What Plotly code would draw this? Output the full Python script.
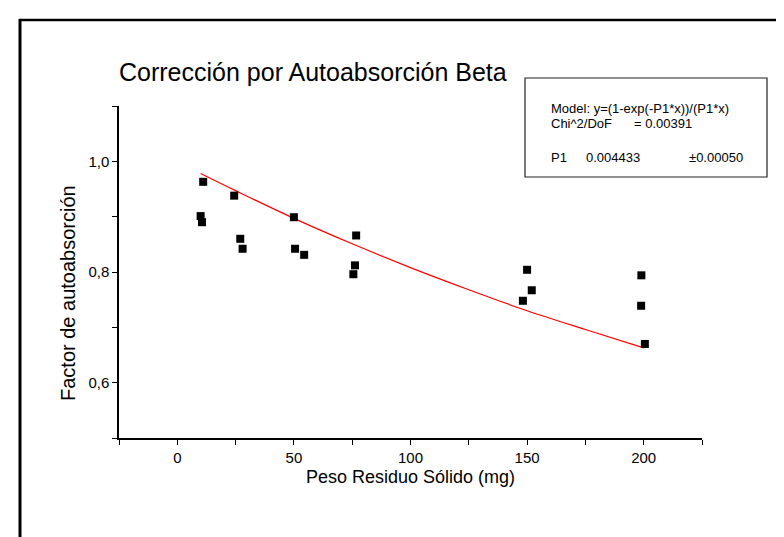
import plotly.graph_objects as go

# ---- data ----
peso_mg = [11.1, 24.4, 10.0, 10.6, 27.0, 28.0, 50.0, 50.5, 54.4,
           76.7, 76.2, 75.5, 150.0, 152.0, 148.2, 199.0, 198.9, 200.5]
factor = [0.963, 0.938, 0.901, 0.890, 0.860, 0.842, 0.899, 0.842, 0.831,
          0.866, 0.812, 0.796, 0.804, 0.767, 0.748, 0.794, 0.739, 0.670]

fit_x = [10, 25, 50, 75, 100, 125, 150, 175, 200]
fit_y = [0.978, 0.947, 0.897, 0.851, 0.808, 0.768, 0.730, 0.696, 0.663]

x_tickvals = [0, 50, 100, 150, 200]
x_ticktext = ["0", "50", "100", "150", "200"]
x_minor = [-25, 25, 75, 125, 175, 225]
y_tickvals = [0.6, 0.8, 1.0]
y_ticktext = ["0,6", "0,8", "1,0"]
y_minor = [0.5, 0.7, 0.9, 1.1]

title_text = "Corrección por Autoabsorción Beta"
x_title = "Peso Residuo Sólido (mg)"
y_title = "Factor de autoabsorción"
model_line = "Model: y=(1-exp(-P1*x))/(P1*x)"
chi_label = "Chi^2/DoF"
chi_value = "= 0.00391"
p_name = "P1"
p_value = "0.004433"
p_error = "±0.00050"

# ---- layout geometry (pixels) ----
WIDTH, HEIGHT = 784, 537
L, R, T, B = 111, 90, 98, 107
PW = WIDTH - L - R
PH = HEIGHT - T - B
FONT = "Liberation Sans, Arial, sans-serif"


def px(xp):
    return (xp - L) / PW


def py(yp):
    return (HEIGHT - B - yp) / PH


fig = go.Figure()
fig.add_trace(go.Scatter(x=fit_x, y=fit_y, mode="lines",
                         line=dict(color="#ff0000", width=1.2, shape="spline"),
                         hoverinfo="skip", showlegend=False))
fig.add_trace(go.Scatter(x=peso_mg, y=factor, mode="markers",
                         marker=dict(symbol="square", size=8, color="black",
                                     line=dict(width=0)),
                         showlegend=False))

axis_common = dict(showline=True, linecolor="black", linewidth=1.5,
                   showgrid=False, zeroline=False, ticks="outside",
                   ticklen=5, tickwidth=1.2, tickcolor="black",
                   tickfont=dict(family=FONT, size=15, color="black"),
                   mirror=False, fixedrange=True)

fig.update_xaxes(range=[-25, 225], tickmode="array", tickvals=x_tickvals,
                 ticktext=x_ticktext,
                 minor=dict(tickvals=x_minor, ticks="outside", ticklen=5,
                            tickwidth=1.2, tickcolor="black"),
                 **axis_common)
fig.update_yaxes(range=[0.5, 1.1], tickmode="array", tickvals=y_tickvals,
                 ticktext=y_ticktext,
                 minor=dict(tickvals=y_minor, ticks="outside", ticklen=5,
                            tickwidth=1.2, tickcolor="black"),
                 **axis_common)

annotations = [
    dict(text=title_text, x=px(110), y=py(64), xanchor="left", yanchor="middle",
         font=dict(family=FONT, size=25, color="black")),
    dict(text=x_title, x=px(402.5), y=py(469), xanchor="center", yanchor="middle",
         font=dict(family=FONT, size=18, color="black")),
    dict(text=y_title, x=px(60), y=py(285), xanchor="center", yanchor="middle",
         textangle=-90, font=dict(family=FONT, size=20, color="black")),
    dict(text=model_line, x=px(542), y=py(100.5), xanchor="left", yanchor="middle",
         font=dict(family=FONT, size=13, color="black")),
    dict(text=chi_label, x=px(542), y=py(115.5), xanchor="left", yanchor="middle",
         font=dict(family=FONT, size=13, color="black")),
    dict(text=chi_value, x=px(625), y=py(115.5), xanchor="left", yanchor="middle",
         font=dict(family=FONT, size=13, color="black")),
    dict(text=p_name, x=px(542), y=py(149), xanchor="left", yanchor="middle",
         font=dict(family=FONT, size=13, color="black")),
    dict(text=p_value, x=px(577), y=py(149), xanchor="left", yanchor="middle",
         font=dict(family=FONT, size=13, color="black")),
    dict(text=p_error, x=px(680), y=py(149), xanchor="left", yanchor="middle",
         font=dict(family=FONT, size=13, color="black")),
]
for a in annotations:
    a.update(xref="paper", yref="paper", showarrow=False, borderpad=0)

shapes = [
    # page frame (top and left edges)
    dict(type="line", x0=px(11), x1=px(800), y0=py(12), y1=py(12),
         line=dict(color="black", width=2.5)),
    dict(type="line", x0=px(12), x1=px(12), y0=py(11), y1=py(560),
         line=dict(color="black", width=3)),
    # fit info box
    dict(type="rect", x0=px(517), x1=px(759), y0=py(70), y1=py(169),
         line=dict(color="#222222", width=1.2), fillcolor="white", layer="below"),
]
for s in shapes:
    s.update(xref="paper", yref="paper")

fig.update_layout(width=WIDTH, height=HEIGHT,
                  margin=dict(l=L, r=R, t=T, b=B, pad=0),
                  paper_bgcolor="white", plot_bgcolor="white",
                  annotations=annotations, shapes=shapes,
                  font=dict(family=FONT, color="black"),
                  showlegend=False)

fig.write_html("out.html")
